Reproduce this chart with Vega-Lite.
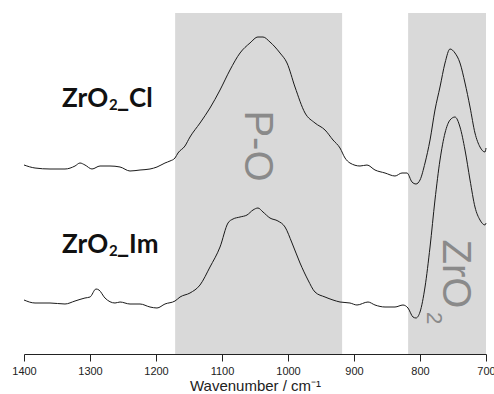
{
  "$schema": "https://vega.github.io/schema/vega-lite/v6.json",
  "width": 462,
  "height": 341,
  "autosize": {"type": "none"},
  "padding": {"left": 24, "top": 13, "right": 8, "bottom": 40},
  "background": "white",
  "config": {"view": {"stroke": null}},
  "datasets": {
    "bands": [
      {"name": "P-O", "start": 1171, "end": 918},
      {"name": "ZrO2", "start": 818, "end": 700}
    ],
    "spectra": [
      {"sample": "ZrO2_Cl", "wavenumber": 1400, "absorbance": 1.89},
      {"sample": "ZrO2_Cl", "wavenumber": 1383.3, "absorbance": 1.86},
      {"sample": "ZrO2_Cl", "wavenumber": 1360.6, "absorbance": 1.85},
      {"sample": "ZrO2_Cl", "wavenumber": 1337.9, "absorbance": 1.85},
      {"sample": "ZrO2_Cl", "wavenumber": 1322.7, "absorbance": 1.88},
      {"sample": "ZrO2_Cl", "wavenumber": 1315.2, "absorbance": 1.91},
      {"sample": "ZrO2_Cl", "wavenumber": 1307.6, "absorbance": 1.89},
      {"sample": "ZrO2_Cl", "wavenumber": 1297.0, "absorbance": 1.85},
      {"sample": "ZrO2_Cl", "wavenumber": 1284.8, "absorbance": 1.88},
      {"sample": "ZrO2_Cl", "wavenumber": 1269.7, "absorbance": 1.88},
      {"sample": "ZrO2_Cl", "wavenumber": 1254.5, "absorbance": 1.87},
      {"sample": "ZrO2_Cl", "wavenumber": 1239.4, "absorbance": 1.83},
      {"sample": "ZrO2_Cl", "wavenumber": 1224.2, "absorbance": 1.84},
      {"sample": "ZrO2_Cl", "wavenumber": 1209.1, "absorbance": 1.85},
      {"sample": "ZrO2_Cl", "wavenumber": 1198.5, "absorbance": 1.87},
      {"sample": "ZrO2_Cl", "wavenumber": 1186.4, "absorbance": 1.91},
      {"sample": "ZrO2_Cl", "wavenumber": 1178.8, "absorbance": 1.93},
      {"sample": "ZrO2_Cl", "wavenumber": 1171.2, "absorbance": 1.96},
      {"sample": "ZrO2_Cl", "wavenumber": 1166.7, "absorbance": 2.01},
      {"sample": "ZrO2_Cl", "wavenumber": 1156.1, "absorbance": 2.08},
      {"sample": "ZrO2_Cl", "wavenumber": 1148.5, "absorbance": 2.17},
      {"sample": "ZrO2_Cl", "wavenumber": 1133.3, "absorbance": 2.31},
      {"sample": "ZrO2_Cl", "wavenumber": 1118.2, "absorbance": 2.46},
      {"sample": "ZrO2_Cl", "wavenumber": 1103.0, "absorbance": 2.64},
      {"sample": "ZrO2_Cl", "wavenumber": 1087.9, "absorbance": 2.84},
      {"sample": "ZrO2_Cl", "wavenumber": 1072.7, "absorbance": 3.01},
      {"sample": "ZrO2_Cl", "wavenumber": 1057.6, "absorbance": 3.11},
      {"sample": "ZrO2_Cl", "wavenumber": 1045.5, "absorbance": 3.17},
      {"sample": "ZrO2_Cl", "wavenumber": 1037.9, "absorbance": 3.17},
      {"sample": "ZrO2_Cl", "wavenumber": 1027.3, "absorbance": 3.12},
      {"sample": "ZrO2_Cl", "wavenumber": 1012.1, "absorbance": 3.01},
      {"sample": "ZrO2_Cl", "wavenumber": 1001.5, "absorbance": 2.91},
      {"sample": "ZrO2_Cl", "wavenumber": 989.4, "absorbance": 2.67},
      {"sample": "ZrO2_Cl", "wavenumber": 974.2, "absorbance": 2.41},
      {"sample": "ZrO2_Cl", "wavenumber": 959.1, "absorbance": 2.31},
      {"sample": "ZrO2_Cl", "wavenumber": 943.9, "absorbance": 2.24},
      {"sample": "ZrO2_Cl", "wavenumber": 931.8, "absorbance": 2.14},
      {"sample": "ZrO2_Cl", "wavenumber": 921.2, "absorbance": 2.06},
      {"sample": "ZrO2_Cl", "wavenumber": 913.6, "absorbance": 1.96},
      {"sample": "ZrO2_Cl", "wavenumber": 906.1, "absorbance": 1.91},
      {"sample": "ZrO2_Cl", "wavenumber": 890.9, "absorbance": 1.88},
      {"sample": "ZrO2_Cl", "wavenumber": 880.3, "absorbance": 1.89},
      {"sample": "ZrO2_Cl", "wavenumber": 868.2, "absorbance": 1.84},
      {"sample": "ZrO2_Cl", "wavenumber": 853.0, "absorbance": 1.81},
      {"sample": "ZrO2_Cl", "wavenumber": 837.9, "absorbance": 1.78},
      {"sample": "ZrO2_Cl", "wavenumber": 827.3, "absorbance": 1.81},
      {"sample": "ZrO2_Cl", "wavenumber": 819.7, "absorbance": 1.81},
      {"sample": "ZrO2_Cl", "wavenumber": 812.1, "absorbance": 1.72},
      {"sample": "ZrO2_Cl", "wavenumber": 806.1, "absorbance": 1.70},
      {"sample": "ZrO2_Cl", "wavenumber": 800.0, "absorbance": 1.74},
      {"sample": "ZrO2_Cl", "wavenumber": 792.4, "absorbance": 1.91},
      {"sample": "ZrO2_Cl", "wavenumber": 784.8, "absorbance": 2.14},
      {"sample": "ZrO2_Cl", "wavenumber": 777.3, "absorbance": 2.44},
      {"sample": "ZrO2_Cl", "wavenumber": 769.7, "absorbance": 2.67},
      {"sample": "ZrO2_Cl", "wavenumber": 762.1, "absorbance": 2.91},
      {"sample": "ZrO2_Cl", "wavenumber": 754.5, "absorbance": 3.05},
      {"sample": "ZrO2_Cl", "wavenumber": 747.0, "absorbance": 3.01},
      {"sample": "ZrO2_Cl", "wavenumber": 739.4, "absorbance": 2.91},
      {"sample": "ZrO2_Cl", "wavenumber": 731.8, "absorbance": 2.71},
      {"sample": "ZrO2_Cl", "wavenumber": 724.2, "absorbance": 2.47},
      {"sample": "ZrO2_Cl", "wavenumber": 716.7, "absorbance": 2.21},
      {"sample": "ZrO2_Cl", "wavenumber": 709.1, "absorbance": 2.07},
      {"sample": "ZrO2_Cl", "wavenumber": 701.5, "absorbance": 2.02},
      {"sample": "ZrO2_Cl", "wavenumber": 700.0, "absorbance": 2.06},
      {"sample": "ZrO2_Im", "wavenumber": 1400, "absorbance": 0.54},
      {"sample": "ZrO2_Im", "wavenumber": 1383.3, "absorbance": 0.51},
      {"sample": "ZrO2_Im", "wavenumber": 1360.6, "absorbance": 0.51},
      {"sample": "ZrO2_Im", "wavenumber": 1337.9, "absorbance": 0.50},
      {"sample": "ZrO2_Im", "wavenumber": 1322.7, "absorbance": 0.53},
      {"sample": "ZrO2_Im", "wavenumber": 1307.6, "absorbance": 0.56},
      {"sample": "ZrO2_Im", "wavenumber": 1300.0, "absorbance": 0.57},
      {"sample": "ZrO2_Im", "wavenumber": 1290.9, "absorbance": 0.65},
      {"sample": "ZrO2_Im", "wavenumber": 1286.4, "absorbance": 0.64},
      {"sample": "ZrO2_Im", "wavenumber": 1277.3, "absorbance": 0.56},
      {"sample": "ZrO2_Im", "wavenumber": 1262.1, "absorbance": 0.51},
      {"sample": "ZrO2_Im", "wavenumber": 1254.5, "absorbance": 0.52},
      {"sample": "ZrO2_Im", "wavenumber": 1239.4, "absorbance": 0.50},
      {"sample": "ZrO2_Im", "wavenumber": 1224.2, "absorbance": 0.50},
      {"sample": "ZrO2_Im", "wavenumber": 1209.1, "absorbance": 0.47},
      {"sample": "ZrO2_Im", "wavenumber": 1198.5, "absorbance": 0.46},
      {"sample": "ZrO2_Im", "wavenumber": 1186.4, "absorbance": 0.50},
      {"sample": "ZrO2_Im", "wavenumber": 1171.2, "absorbance": 0.53},
      {"sample": "ZrO2_Im", "wavenumber": 1163.6, "absorbance": 0.57},
      {"sample": "ZrO2_Im", "wavenumber": 1148.5, "absorbance": 0.61},
      {"sample": "ZrO2_Im", "wavenumber": 1133.3, "absorbance": 0.69},
      {"sample": "ZrO2_Im", "wavenumber": 1118.2, "absorbance": 0.87},
      {"sample": "ZrO2_Im", "wavenumber": 1103.0, "absorbance": 1.07},
      {"sample": "ZrO2_Im", "wavenumber": 1090.9, "absorbance": 1.31},
      {"sample": "ZrO2_Im", "wavenumber": 1083.3, "absorbance": 1.35},
      {"sample": "ZrO2_Im", "wavenumber": 1072.7, "absorbance": 1.37},
      {"sample": "ZrO2_Im", "wavenumber": 1062.1, "absorbance": 1.39},
      {"sample": "ZrO2_Im", "wavenumber": 1053.0, "absorbance": 1.44},
      {"sample": "ZrO2_Im", "wavenumber": 1045.5, "absorbance": 1.46},
      {"sample": "ZrO2_Im", "wavenumber": 1037.9, "absorbance": 1.42},
      {"sample": "ZrO2_Im", "wavenumber": 1027.3, "absorbance": 1.36},
      {"sample": "ZrO2_Im", "wavenumber": 1015.2, "absorbance": 1.33},
      {"sample": "ZrO2_Im", "wavenumber": 1004.5, "absorbance": 1.27},
      {"sample": "ZrO2_Im", "wavenumber": 993.9, "absorbance": 1.11},
      {"sample": "ZrO2_Im", "wavenumber": 981.8, "absorbance": 0.91},
      {"sample": "ZrO2_Im", "wavenumber": 969.7, "absorbance": 0.74},
      {"sample": "ZrO2_Im", "wavenumber": 959.1, "absorbance": 0.62},
      {"sample": "ZrO2_Im", "wavenumber": 943.9, "absorbance": 0.57},
      {"sample": "ZrO2_Im", "wavenumber": 931.8, "absorbance": 0.54},
      {"sample": "ZrO2_Im", "wavenumber": 921.2, "absorbance": 0.52},
      {"sample": "ZrO2_Im", "wavenumber": 906.1, "absorbance": 0.51},
      {"sample": "ZrO2_Im", "wavenumber": 895.5, "absorbance": 0.49},
      {"sample": "ZrO2_Im", "wavenumber": 878.8, "absorbance": 0.52},
      {"sample": "ZrO2_Im", "wavenumber": 868.2, "absorbance": 0.49},
      {"sample": "ZrO2_Im", "wavenumber": 853.0, "absorbance": 0.47},
      {"sample": "ZrO2_Im", "wavenumber": 837.9, "absorbance": 0.47},
      {"sample": "ZrO2_Im", "wavenumber": 825.8, "absorbance": 0.49},
      {"sample": "ZrO2_Im", "wavenumber": 818.2, "absorbance": 0.46},
      {"sample": "ZrO2_Im", "wavenumber": 810.6, "absorbance": 0.37},
      {"sample": "ZrO2_Im", "wavenumber": 806.1, "absorbance": 0.36},
      {"sample": "ZrO2_Im", "wavenumber": 800.0, "absorbance": 0.42},
      {"sample": "ZrO2_Im", "wavenumber": 792.4, "absorbance": 0.67},
      {"sample": "ZrO2_Im", "wavenumber": 784.8, "absorbance": 1.07},
      {"sample": "ZrO2_Im", "wavenumber": 777.3, "absorbance": 1.54},
      {"sample": "ZrO2_Im", "wavenumber": 769.7, "absorbance": 1.94},
      {"sample": "ZrO2_Im", "wavenumber": 762.1, "absorbance": 2.21},
      {"sample": "ZrO2_Im", "wavenumber": 754.5, "absorbance": 2.34},
      {"sample": "ZrO2_Im", "wavenumber": 747.0, "absorbance": 2.37},
      {"sample": "ZrO2_Im", "wavenumber": 739.4, "absorbance": 2.27},
      {"sample": "ZrO2_Im", "wavenumber": 731.8, "absorbance": 2.04},
      {"sample": "ZrO2_Im", "wavenumber": 724.2, "absorbance": 1.74},
      {"sample": "ZrO2_Im", "wavenumber": 716.7, "absorbance": 1.47},
      {"sample": "ZrO2_Im", "wavenumber": 709.1, "absorbance": 1.34},
      {"sample": "ZrO2_Im", "wavenumber": 701.5, "absorbance": 1.29},
      {"sample": "ZrO2_Im", "wavenumber": 700.0, "absorbance": 1.31}
    ],
    "bandLabels": [
      {"text": "P-O", "wavenumber": 1047, "absorbance": 2.08, "size": 40},
      {"text": "ZrO", "wavenumber": 747, "absorbance": 0.8, "size": 40},
      {"text": "2", "wavenumber": 779, "absorbance": 0.36, "size": 22}
    ],
    "sampleLabels": [
      {"text": "ZrO", "wavenumber": 1342.4, "absorbance": 2.47, "size": 26},
      {"text": "2", "wavenumber": 1271.2, "absorbance": 2.44, "size": 15},
      {"text": "_Cl", "wavenumber": 1259.1, "absorbance": 2.47, "size": 26},
      {"text": "ZrO", "wavenumber": 1342.4, "absorbance": 1.01, "size": 26},
      {"text": "2", "wavenumber": 1271.2, "absorbance": 0.98, "size": 15},
      {"text": "_Im", "wavenumber": 1259.1, "absorbance": 1.01, "size": 26}
    ]
  },
  "layer": [
    {
      "data": {"name": "bands"},
      "mark": {"type": "rect", "color": "#d9d9d9"},
      "encoding": {
        "x": {
          "field": "start",
          "type": "quantitative",
          "scale": {"domain": [700, 1400], "reverse": true, "nice": false, "zero": false},
          "axis": {
            "values": [1400, 1350, 1300, 1250, 1200, 1150, 1100, 1050, 1000, 950, 900, 850, 800, 750, 700],
            "labelExpr": "datum.value % 100 === 0 ? datum.label : ''",
            "format": "d",
            "tickSize": {"condition": {"test": "datum.value % 100 === 0", "value": 7}, "value": 4},
            "tickColor": "#222222",
            "domainColor": "#222222",
            "grid": false,
            "labelFont": "Liberation Sans",
            "labelFontSize": 11,
            "labelColor": "#222222",
            "labelPadding": 4,
            "labelOverlap": false,
            "labelFlush": false,
            "labelBound": false,
            "title": "Wavenumber / cm⁻¹",
            "titleFont": "Liberation Sans",
            "titleFontSize": 15,
            "titleFontWeight": "normal",
            "titleColor": "#222222",
            "titlePadding": 2
          }
        },
        "x2": {"field": "end"}
      }
    },
    {
      "data": {"name": "bandLabels"},
      "mark": {"type": "text", "font": "Liberation Sans", "color": "#8a8a8a", "angle": 90, "align": "center", "baseline": "middle"},
      "encoding": {
        "x": {"field": "wavenumber", "type": "quantitative"},
        "y": {"field": "absorbance", "type": "quantitative", "scale": {"domain": [0, 3.41], "nice": false, "zero": false}, "axis": null},
        "text": {"field": "text"},
        "size": {"field": "size", "type": "quantitative", "scale": null}
      }
    },
    {
      "data": {"name": "spectra"},
      "mark": {"type": "line", "color": "#1a1a1a", "strokeWidth": 1, "interpolate": "monotone"},
      "encoding": {
        "x": {"field": "wavenumber", "type": "quantitative"},
        "y": {"field": "absorbance", "type": "quantitative"},
        "detail": {"field": "sample"},
        "order": {"field": "wavenumber", "sort": "descending"}
      }
    },
    {
      "data": {"name": "sampleLabels"},
      "mark": {"type": "text", "font": "Lato", "fontWeight": "bold", "color": "#111111", "align": "left", "baseline": "alphabetic"},
      "encoding": {
        "x": {"field": "wavenumber", "type": "quantitative"},
        "y": {"field": "absorbance", "type": "quantitative"},
        "text": {"field": "text"},
        "size": {"field": "size", "type": "quantitative", "scale": null}
      }
    }
  ]
}
